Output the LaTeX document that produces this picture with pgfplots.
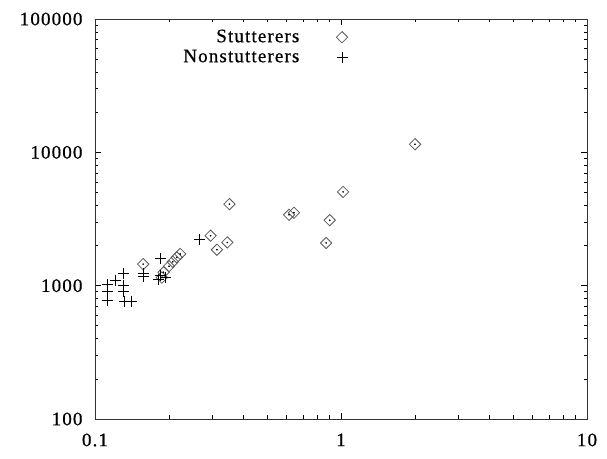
\documentclass[border=0pt]{standalone}
\usepackage{fontspec}
\setmainfont[LetterSpace=6, FakeBold=0.6]{Liberation Serif}
\usepackage{pgfplots}
\usepackage{pgfplotstable}
\pgfplotsset{compat=1.18}

% duration (x) vs. value (y)
\pgfplotstableread{
x y
2.00 11500
1.02 5050
0.90 3100
0.87 2090
0.352 4090
0.615 3400
0.644 3520
0.295 2370
0.313 1860
0.345 2110
0.222 1730
0.215 1630
0.207 1510
0.200 1400
0.187 1150
0.190 1260
0.157 1450
}\stutterers

\pgfplotstableread{
x y
0.267 2210
0.184 1600
0.158 1240
0.158 1170
0.184 1190
0.193 1155
0.181 1120
0.131 1236
0.121 1100
0.112 1017
0.130 1000
0.112 906
0.130 906
0.112 770
0.132 763
0.141 763
}\nonstutterers

\begin{document}
\begin{tikzpicture}[font=\fontsize{19bp}{22bp}\selectfont]
\begin{axis}[
    at={(0,0)}, anchor=south west,
    scale only axis,
    width=492bp, height=400bp,
    xmode=log, ymode=log,
    xmin=0.1, xmax=10, ymin=100, ymax=100000,
    xtick={0.1,1,10}, xticklabels={0.1,1,10},
    ytick={100,1000,10000,100000}, yticklabels={100,1000,10000,100000},
    tick align=inside,
    major tick length=6bp, minor tick length=3.5bp,
    axis line style={black!80, line width=0.8bp},
    every tick/.style={black, line width=0.7bp},
    xticklabel style={yshift=-11bp},
    yticklabel style={xshift=-9bp},
    legend cell align=right,
    legend plot pos=right,
    legend image code/.code={\draw[#1] plot coordinates {(0bp,0bp)};},
    legend style={draw=none, fill=none, inner sep=0pt,
        at={(axis description cs:0.514,1)}, anchor=north east, yshift=-8bp,
        nodes={inner sep=1bp, text height=14bp, text depth=4bp},
        /tikz/every odd column/.append style={column sep=36bp}},
]
\addplot[only marks, mark=square, mark size=4bp, black!65, line width=0.8bp,
    mark options={rotate=45}] table {\stutterers};
\addlegendentry{Stutterers}
\addplot[only marks, mark=+, mark size=5.5bp, black, line width=1bp] table {\nonstutterers};
\addlegendentry{Nonstutterers}
\addplot[only marks, mark=*, mark size=0.6bp, black, forget plot] table {\stutterers};
\end{axis}
\pgfresetboundingbox
\path (-95bp,-40bp) rectangle (512bp,419bp);
\end{tikzpicture}
\end{document}
